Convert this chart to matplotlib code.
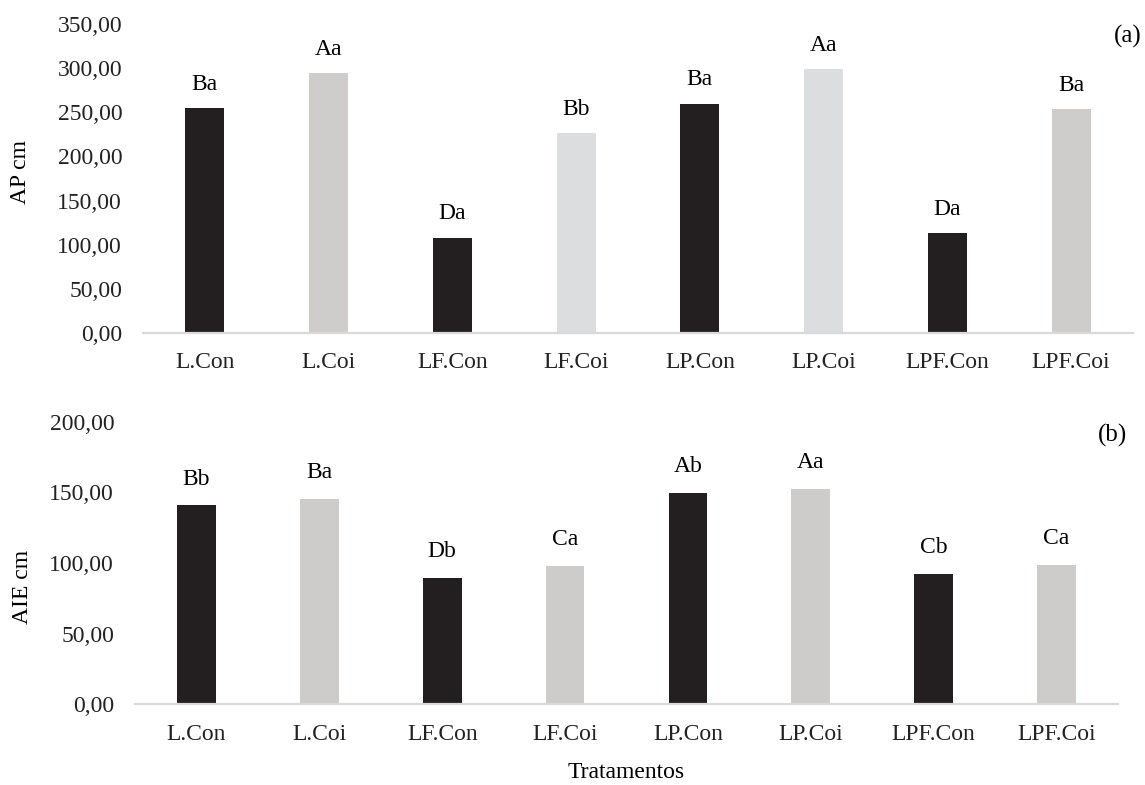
import matplotlib
matplotlib.use("Agg")
import matplotlib.pyplot as plt

plt.rcParams['font.family'] = ['Liberation Serif', 'DejaVu Serif']

# data
tratamentos = ["L.Con", "L.Coi", "LF.Con", "LF.Coi", "LP.Con", "LP.Coi", "LPF.Con", "LPF.Coi"]
ap_cm = [254.5, 294.5, 107.5, 226.5, 260.0, 299.0, 113.0, 253.5]
ap_letras = ["Ba", "Aa", "Da", "Bb", "Ba", "Aa", "Da", "Ba"]
aie_cm = [141.0, 145.3, 89.4, 97.9, 149.8, 152.4, 92.4, 98.6]
aie_letras = ["Bb", "Ba", "Db", "Ca", "Ab", "Aa", "Cb", "Ca"]
ap_ticks = [0, 50, 100, 150, 200, 250, 300, 350]
aie_ticks = [0, 50, 100, 150, 200]

cores_a = ["#231F20", "#CFCDCB", "#231F20", "#DCDDDF", "#231F20", "#DCDDDF", "#231F20", "#CFCDCB"]
cores_b = ["#231F20", "#CDCCCA", "#231F20", "#CDCCCA", "#231F20", "#CDCCCA", "#231F20", "#CDCCCA"]

W, H = 1145, 785
fig = plt.figure(figsize=(W / 100, H / 100), dpi=100)

ax1 = fig.add_axes([143 / W, 1 - 332.7 / H, 990 / W, 308.4 / H])
ax2 = fig.add_axes([135 / W, 1 - 704.3 / H, 983 / W, 282.6 / H])


def fmt(v):
    return f"{v:.2f}".replace(".", ",")


def desenha(ax, vals, letras, cores, ticks, off):
    x = list(range(len(tratamentos)))
    ax.bar(x, vals, width=0.315, color=cores, zorder=2)
    for xi, v, t in zip(x, vals, letras):
        ax.annotate(t, (xi, v), xytext=(0, off), textcoords="offset pixels",
                    ha="center", va="center", fontsize=17)
    ax.set_xlim(-0.5, len(x) - 0.5)
    ax.set_ylim(ticks[0], ticks[-1])
    ax.set_yticks(ticks)
    ax.set_yticklabels([fmt(t) for t in ticks])
    ax.set_xticks(x)
    ax.set_xticklabels(tratamentos)
    ax.tick_params(axis="both", length=0, labelsize=17, colors="#222222")
    ax.tick_params(axis="y", pad=15)
    ax.tick_params(axis="x", pad=14)
    for s in ["top", "right", "left"]:
        ax.spines[s].set_visible(False)
    ax.spines["bottom"].set_color("#D9D9D9")
    ax.spines["bottom"].set_linewidth(1.6)
    ax.spines["bottom"].set_zorder(3)


desenha(ax1, ap_cm, ap_letras, cores_a, ap_ticks, 24)
desenha(ax2, aie_cm, aie_letras, cores_b, aie_ticks, 26)

fig.text(20 / W, 1 - 172 / H, "AP cm", rotation=90, ha="center", va="center", fontsize=17)
fig.text(23 / W, 1 - 587 / H, "AIE cm", rotation=90, ha="center", va="center", fontsize=17)
fig.text(1142 / W, 1 - 36 / H, "(a)", ha="right", va="center", fontsize=18)
fig.text(1127 / W, 1 - 435 / H, "(b)", ha="right", va="center", fontsize=18)
fig.text(626 / W, 1 - 772 / H, "Tratamentos", ha="center", va="center", fontsize=17)

fig.savefig("out.png", dpi=100)
